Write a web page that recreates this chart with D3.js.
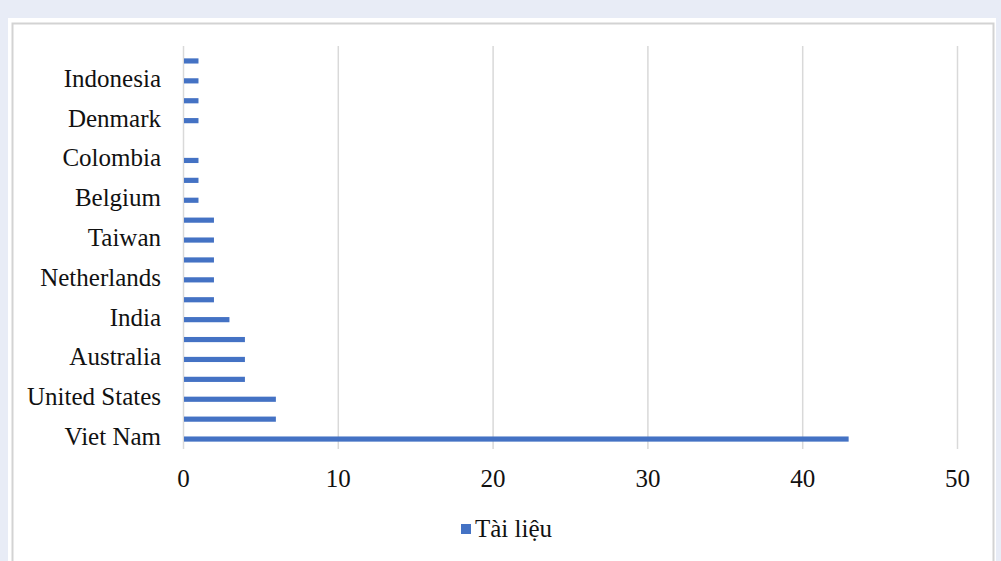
<!DOCTYPE html>
<html>
<head>
<meta charset="utf-8">
<script src="https://cdn.jsdelivr.net/npm/d3@7"></script>
<style>
  html, body { margin: 0; padding: 0; background: #e8ecf6; }
  svg { display: block; }
  text { font-family: "Liberation Serif", "Times New Roman", serif; fill: #111; }
</style>
</head>
<body>
<svg width="1001" height="561"></svg>
<script>
// categories from bottom to top (only every other label is shown in the chart)
var labels = ["Viet Nam", "", "United States", "", "Australia", "", "India", "", "Netherlands", "",
              "Taiwan", "", "Belgium", "", "Colombia", "", "Denmark", "", "Indonesia", ""];
var values = [43, 6, 6, 4, 4, 4, 3, 2, 2, 2, 2, 2, 1, 1, 1, 0, 1, 1, 1, 1];
var xTicks = [0, 10, 20, 30, 40, 50];
var seriesName = "Tài liệu";

var plotLeft = 183, plotRight = 957, plotTop = 51, plotBottom = 449;

var svg = d3.select("svg");

// panel + frame
svg.append("rect").attr("x", 8).attr("y", 18).attr("width", 988).attr("height", 560).attr("fill", "#fff");
svg.append("rect").attr("x", 12.5).attr("y", 23.5).attr("width", 981).attr("height", 560)
    .attr("fill", "none").attr("stroke", "#d3d3d3").attr("stroke-width", 2);

var idx = d3.range(labels.length);

var x = d3.scaleLinear().domain([0, 50]).range([plotLeft, plotRight]);
var y = d3.scaleBand().domain(idx).range([plotBottom, plotTop])
    .paddingInner(0.74).paddingOuter(0.37);

// grid lines
svg.append("g")
    .attr("transform", "translate(0," + plotBottom + ")")
    .call(d3.axisBottom(x).tickValues(xTicks).tickSize(-(plotBottom - plotTop + 5)).tickFormat(""))
    .call(g => g.select(".domain").remove())
    .call(g => g.selectAll("line").attr("stroke", "#d9d9d9").attr("stroke-width", 1.5));

// bars
svg.selectAll(".bar")
    .data(idx)
  .enter().append("rect")
    .attr("class", "bar")
    .attr("x", x(0) + 1)
    .attr("y", d => y(d))
    .attr("width", d => Math.max(0, x(values[d]) - x(0) - 1))
    .attr("height", y.bandwidth())
    .attr("fill", "#4472c4");

// category labels
svg.append("g")
    .attr("transform", "translate(" + plotLeft + ",0)")
    .call(d3.axisLeft(y).tickSize(0).tickPadding(22).tickFormat(d => labels[d]))
    .call(g => g.select(".domain").remove())
    .call(g => g.selectAll("text").attr("font-size", 25).attr("dy", "0.24em")
        .style("font-family", "'Liberation Serif', serif").attr("fill", "#111"));

// value axis labels
svg.append("g")
    .attr("transform", "translate(0," + plotBottom + ")")
    .call(d3.axisBottom(x).tickValues(xTicks).tickSize(0).tickPadding(20))
    .call(g => g.select(".domain").remove())
    .call(g => g.selectAll("text").attr("font-size", 25).style("font-family", "'Liberation Serif', serif").attr("fill", "#111"));

// legend
var legend = svg.append("g").attr("transform", "translate(461,524)");
legend.append("rect").attr("width", 10).attr("height", 10).attr("fill", "#4472c4");
legend.append("text").attr("x", 14).attr("y", 13).attr("font-size", 25).text(seriesName);
</script>
</body>
</html>
